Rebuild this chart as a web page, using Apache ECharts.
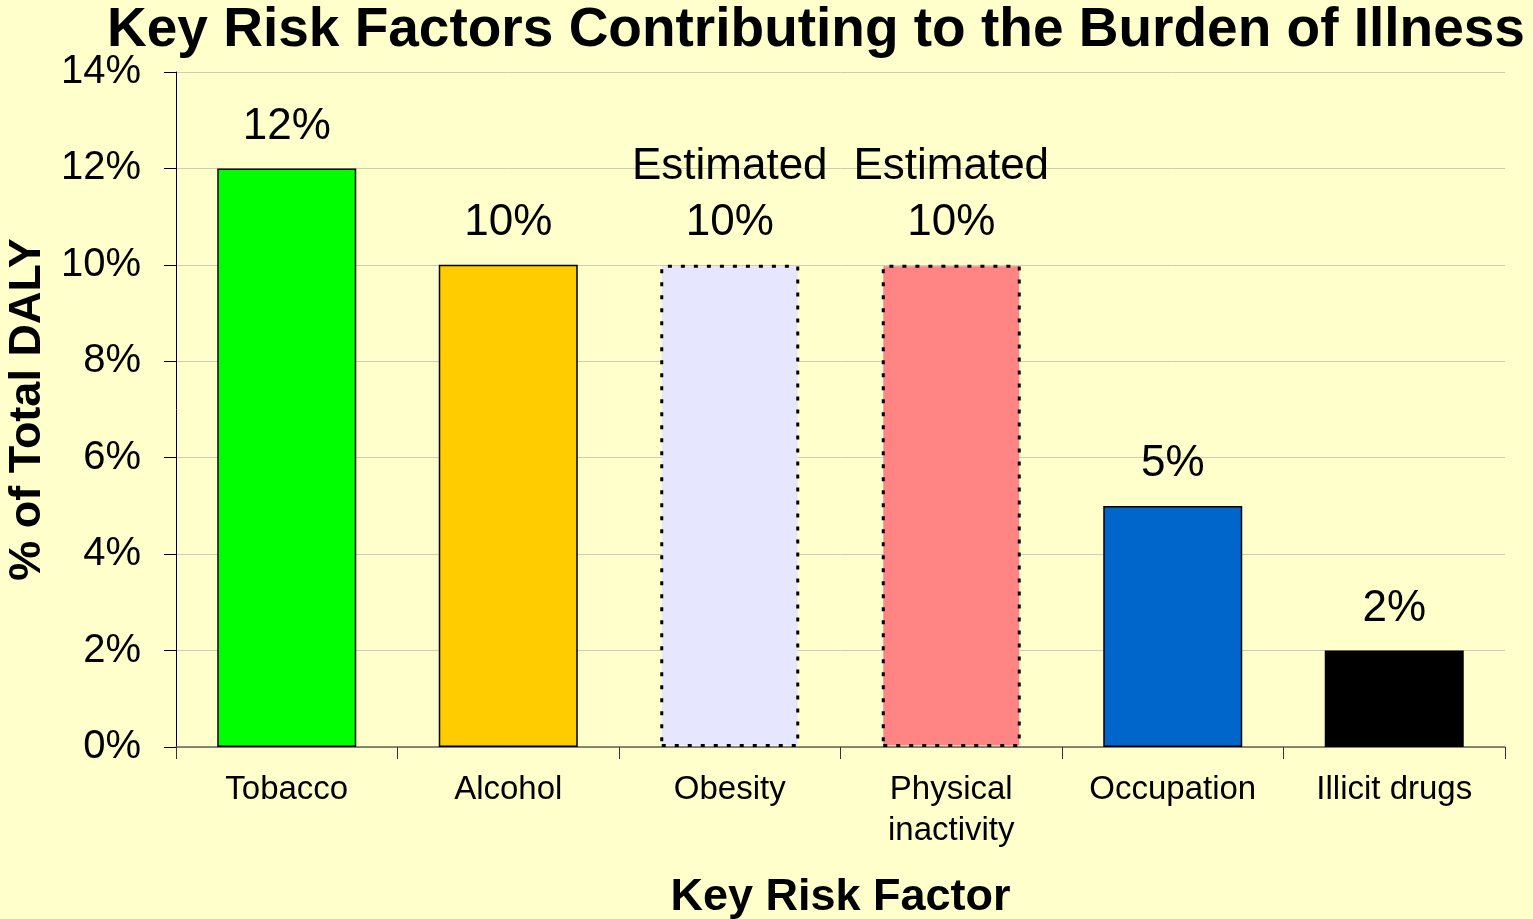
<!DOCTYPE html>
<html>
<head>
<meta charset="utf-8">
<script src="https://cdn.jsdelivr.net/npm/echarts@6/dist/echarts.min.js"></script>
<style>
html,body{margin:0;padding:0;background:#FFFFCC;}
#chart{width:1533px;height:919px;}
</style>
</head>
<body>
<div id="chart"></div>
<script>
const categories = ["Tobacco", "Alcohol", "Obesity", "Physical\ninactivity", "Occupation", "Illicit drugs"];
const values = [12, 10, 10, 10, 5, 2];
const estimated = [false, false, true, true, false, false];
const yTicks = [0, 2, 4, 6, 8, 10, 12, 14];

const barColors = ["#00FF00", "#FFCC00", "#E6E6FF", "#FF8484", "#0066CC", "#000000"];

const chart = echarts.init(document.getElementById('chart'));
const font = "'Liberation Sans', Arial, sans-serif";
const option = {
  backgroundColor: "#FFFFCC",
  animation: false,
  title: {
    text: "Key Risk Factors Contributing to the Burden of Illness",
    left: 811, textAlign: 'center', top: -2,
    textStyle: { fontFamily: font, fontWeight: 'bold', fontSize: 55, color: '#000' }
  },
  grid: { left: 176, right: 28, top: 72, bottom: 172, outerBoundsMode: 'none', containLabel: false },
  xAxis: {
    type: 'category',
    data: categories,
    name: 'Key Risk Factor',
    nameLocation: 'middle',
    nameGap: 128,
    nameTextStyle: { fontFamily: font, fontWeight: 'bold', fontSize: 45, color: '#000' },
    axisLine: { lineStyle: { color: '#666655', width: 1.5 } },
    axisTick: { show: true, length: 12, lineStyle: { color: '#333' } },
    axisLabel: { fontFamily: font, fontSize: 33, color: '#000', margin: 22, lineHeight: 41, interval: 0 }
  },
  yAxis: {
    type: 'value',
    min: 0, max: yTicks[yTicks.length - 1], interval: yTicks[1] - yTicks[0],
    name: '% of Total DALY',
    nameLocation: 'middle',
    nameGap: 125,
    nameRotate: 90,
    nameTextStyle: { fontFamily: font, fontWeight: 'bold', fontSize: 45, color: '#000' },
    axisLine: { show: true, lineStyle: { color: '#000', width: 1 } },
    axisTick: { show: true, length: 12, lineStyle: { color: '#000' } },
    axisLabel: { fontFamily: font, fontSize: 40, color: '#000', margin: 35, formatter: '{value}%' },
    splitLine: { show: true, lineStyle: { color: '#CCCCBB', width: 1 } }
  },
  series: [{
    type: 'bar',
    barWidth: 139,
    data: values.map((v, i) => ({
      value: v,
      itemStyle: estimated[i] ? {
        color: barColors[i], borderColor: '#000', borderWidth: 3, borderType: [4, 9]
      } : { color: barColors[i], borderColor: '#000', borderWidth: 1.5 }
    })),
    label: {
      show: true, position: 'top', distance: 14,
      fontFamily: font, fontSize: 44, color: '#000', lineHeight: 56,
      formatter: p => (estimated[p.dataIndex] ? 'Estimated\n' : '') + p.value + '%'
    }
  }]
};
chart.setOption(option);
</script>
</body>
</html>
